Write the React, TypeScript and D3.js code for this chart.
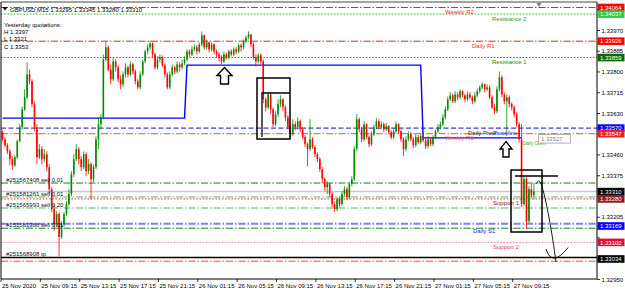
import React from 'react';
import * as d3 from 'd3';

const W = 625;
const H = 293;
const plot = { left: 1, right: 597, top: 2, bottom: 279 };

const titleText = 'GBPUSD,M15  1.33295 1.33345 1.33280 1.33310';
const yesterdayLines = ['Yesterday quotations:', 'H 1.3397', 'L 1.3321', 'C 1.3353'];

const firstOpen = 1.33553;
const closes = [
  1.33524, 1.33500, 1.33475, 1.33443, 1.33418, 1.33451, 1.33516, 1.33574, 1.33647, 1.33696,
  1.33790, 1.33762, 1.33668, 1.33574, 1.33451, 1.33484, 1.33443, 1.33463, 1.33410, 1.33320,
  1.33238, 1.33177, 1.33218, 1.33124, 1.33177, 1.33218, 1.33259, 1.33300, 1.33381, 1.33443,
  1.33484, 1.33443, 1.33410, 1.33463, 1.33394, 1.33422, 1.33361, 1.33410, 1.33524, 1.33586,
  1.33614, 1.33851, 1.33901, 1.33810, 1.33770, 1.33843, 1.33819, 1.33770, 1.33749, 1.33790,
  1.33819, 1.33790, 1.33831, 1.33802, 1.33762, 1.33737, 1.33790, 1.33843, 1.33884, 1.33901,
  1.33917, 1.33872, 1.33819, 1.33851, 1.33860, 1.33827, 1.33790, 1.33737, 1.33790, 1.33819,
  1.33802, 1.33831, 1.33819, 1.33835, 1.33851, 1.33884, 1.33872, 1.33892, 1.33901, 1.33884,
  1.33913, 1.33950, 1.33901, 1.33921, 1.33892, 1.33913, 1.33884, 1.33872, 1.33860, 1.33843,
  1.33872, 1.33860, 1.33884, 1.33872, 1.33892, 1.33884, 1.33909, 1.33901, 1.33925, 1.33941,
  1.33954, 1.33913, 1.33860, 1.33843, 1.33868, 1.33843, 1.33688, 1.33655, 1.33708, 1.33647,
  1.33586, 1.33627, 1.33668, 1.33688, 1.33655, 1.33614, 1.33574, 1.33545, 1.33586, 1.33574,
  1.33598, 1.33565, 1.33533, 1.33504, 1.33484, 1.33524, 1.33492, 1.33463, 1.33443, 1.33402,
  1.33361, 1.33328, 1.33341, 1.33300, 1.33259, 1.33238, 1.33279, 1.33259, 1.33300, 1.33320,
  1.33287, 1.33341, 1.33361, 1.33484, 1.33606, 1.33565, 1.33524, 1.33586, 1.33533, 1.33504,
  1.33545, 1.33574, 1.33598, 1.33574, 1.33586, 1.33565, 1.33578, 1.33553, 1.33533, 1.33557,
  1.33586, 1.33557, 1.33524, 1.33484, 1.33524, 1.33545, 1.33524, 1.33500, 1.33533, 1.33512,
  1.33537, 1.33520, 1.33496, 1.33524, 1.33504, 1.33533, 1.33557, 1.33574, 1.33586, 1.33614,
  1.33647, 1.33688, 1.33704, 1.33680, 1.33708, 1.33696, 1.33721, 1.33704, 1.33688, 1.33708,
  1.33696, 1.33680, 1.33704, 1.33721, 1.33737, 1.33749, 1.33729, 1.33737, 1.33696, 1.33655,
  1.33639, 1.33729, 1.33778, 1.33708, 1.33680, 1.33696, 1.33668, 1.33655, 1.33627, 1.33586,
  1.33524, 1.33259, 1.33361, 1.33189, 1.33320, 1.33295, 1.33310,
];
const highs = [
  1.33561, 1.33533, 1.33508, 1.33484, 1.33455, 1.33459, 1.33524, 1.33586, 1.33659, 1.33729,
  1.33839, 1.33810, 1.33770, 1.33680, 1.33586, 1.33504, 1.33496, 1.33484, 1.33475, 1.33422,
  1.33328, 1.33259, 1.33230, 1.33226, 1.33189, 1.33226, 1.33271, 1.33320, 1.33394, 1.33463,
  1.33504, 1.33492, 1.33455, 1.33475, 1.33471, 1.33443, 1.33430, 1.33422, 1.33537, 1.33614,
  1.33627, 1.33872, 1.33925, 1.33909, 1.33831, 1.33860, 1.33851, 1.33827, 1.33786, 1.33802,
  1.33835, 1.33827, 1.33843, 1.33839, 1.33810, 1.33770, 1.33802, 1.33851, 1.33892, 1.33913,
  1.33929, 1.33921, 1.33880, 1.33864, 1.33872, 1.33868, 1.33835, 1.33798, 1.33802, 1.33831,
  1.33827, 1.33843, 1.33839, 1.33851, 1.33864, 1.33892, 1.33892, 1.33905, 1.33913, 1.33909,
  1.33921, 1.33966, 1.33954, 1.33933, 1.33925, 1.33921, 1.33917, 1.33892, 1.33880, 1.33868,
  1.33884, 1.33880, 1.33892, 1.33892, 1.33901, 1.33901, 1.33917, 1.33917, 1.33933, 1.33950,
  1.33966, 1.33950, 1.33921, 1.33872, 1.33876, 1.33876, 1.33851, 1.33696, 1.33717, 1.33712,
  1.33655, 1.33639, 1.33688, 1.33704, 1.33692, 1.33663, 1.33623, 1.33582, 1.33606, 1.33598,
  1.33614, 1.33606, 1.33574, 1.33541, 1.33512, 1.33606, 1.33533, 1.33500, 1.33471, 1.33451,
  1.33410, 1.33369, 1.33353, 1.33345, 1.33308, 1.33271, 1.33287, 1.33287, 1.33312, 1.33332,
  1.33328, 1.33349, 1.33373, 1.33496, 1.33627, 1.33614, 1.33574, 1.33598, 1.33590, 1.33541,
  1.33557, 1.33586, 1.33610, 1.33606, 1.33598, 1.33594, 1.33590, 1.33582, 1.33561, 1.33570,
  1.33598, 1.33590, 1.33565, 1.33533, 1.33537, 1.33557, 1.33553, 1.33533, 1.33545, 1.33541,
  1.33549, 1.33545, 1.33529, 1.33537, 1.33533, 1.33541, 1.33565, 1.33586, 1.33598, 1.33627,
  1.33659, 1.33700, 1.33717, 1.33712, 1.33721, 1.33717, 1.33729, 1.33725, 1.33712, 1.33721,
  1.33717, 1.33704, 1.33717, 1.33733, 1.33745, 1.33757, 1.33753, 1.33749, 1.33745, 1.33704,
  1.33668, 1.33741, 1.33802, 1.33786, 1.33717, 1.33708, 1.33704, 1.33676, 1.33663, 1.33635,
  1.33594, 1.33586, 1.33373, 1.33369, 1.33332, 1.33341, 1.33345,
];
const lows = [
  1.33516, 1.33492, 1.33463, 1.33418, 1.33398, 1.33410, 1.33443, 1.33512, 1.33565, 1.33639,
  1.33688, 1.33749, 1.33655, 1.33557, 1.33422, 1.33443, 1.33422, 1.33430, 1.33394, 1.33300,
  1.33226, 1.33149, 1.33165, 1.33046, 1.33116, 1.33165, 1.33210, 1.33251, 1.33291, 1.33369,
  1.33434, 1.33422, 1.33394, 1.33402, 1.33373, 1.33381, 1.33279, 1.33349, 1.33402, 1.33484,
  1.33565, 1.33606, 1.33843, 1.33802, 1.33749, 1.33762, 1.33802, 1.33757, 1.33729, 1.33737,
  1.33778, 1.33778, 1.33782, 1.33790, 1.33749, 1.33729, 1.33729, 1.33782, 1.33835, 1.33872,
  1.33892, 1.33860, 1.33810, 1.33810, 1.33839, 1.33819, 1.33778, 1.33729, 1.33729, 1.33782,
  1.33790, 1.33794, 1.33802, 1.33810, 1.33827, 1.33843, 1.33860, 1.33864, 1.33884, 1.33872,
  1.33876, 1.33905, 1.33892, 1.33892, 1.33880, 1.33884, 1.33872, 1.33860, 1.33843, 1.33831,
  1.33835, 1.33851, 1.33851, 1.33864, 1.33864, 1.33872, 1.33876, 1.33884, 1.33892, 1.33917,
  1.33933, 1.33901, 1.33851, 1.33823, 1.33835, 1.33831, 1.33672, 1.33639, 1.33647, 1.33627,
  1.33574, 1.33578, 1.33614, 1.33655, 1.33639, 1.33598, 1.33565, 1.33533, 1.33537, 1.33561,
  1.33565, 1.33553, 1.33524, 1.33492, 1.33414, 1.33475, 1.33484, 1.33451, 1.33430, 1.33390,
  1.33345, 1.33312, 1.33300, 1.33287, 1.33246, 1.33226, 1.33230, 1.33246, 1.33251, 1.33291,
  1.33275, 1.33279, 1.33332, 1.33353, 1.33475, 1.33553, 1.33512, 1.33516, 1.33524, 1.33492,
  1.33496, 1.33537, 1.33565, 1.33565, 1.33565, 1.33553, 1.33557, 1.33545, 1.33524, 1.33524,
  1.33549, 1.33549, 1.33512, 1.33455, 1.33475, 1.33516, 1.33516, 1.33488, 1.33492, 1.33504,
  1.33504, 1.33512, 1.33484, 1.33488, 1.33496, 1.33496, 1.33524, 1.33549, 1.33565, 1.33578,
  1.33606, 1.33639, 1.33680, 1.33672, 1.33672, 1.33684, 1.33688, 1.33696, 1.33676, 1.33680,
  1.33688, 1.33668, 1.33672, 1.33696, 1.33712, 1.33729, 1.33717, 1.33721, 1.33688, 1.33647,
  1.33627, 1.33631, 1.33721, 1.33696, 1.33668, 1.33537, 1.33655, 1.33643, 1.33614, 1.33574,
  1.33512, 1.33246, 1.33251, 1.33157, 1.33181, 1.33287, 1.33280,
];

const timeLabels = [
  '25 Nov 2020', '25 Nov 09:15', '25 Nov 13:15', '25 Nov 17:15', '25 Nov 21:15',
  '26 Nov 01:15', '26 Nov 05:15', '26 Nov 09:15', '26 Nov 13:15', '26 Nov 17:15',
  '26 Nov 21:15', '27 Nov 01:15', '27 Nov 05:15', '27 Nov 09:15',
];
const timeLabelBars = [0, 16, 32, 48, 64, 80, 96, 112, 128, 144, 160, 176, 192, 208];

const priceTicks = [
  1.3295, 1.33035, 1.3312, 1.33205, 1.3329, 1.33375, 1.3346, 1.33545, 1.3363, 1.33715,
  1.338, 1.33885, 1.3397, 1.34055,
];

const pivotLevels = [1.33611, 1.33828, 1.3353];
const pivotStartBars = [0, 75, 171];
const pivotEndBar = 211;

const levelPrices = [
  1.34064, 1.34037, 1.33926, 1.33859, 1.3357, 1.33547, 1.33345, 1.3331,
  1.3328, 1.33288, 1.33243, 1.33178, 1.3316, 1.33102, 1.3304, 1.33025,
];
const levelStyles = [
  { c: '#ff1a1a', d: '7,2,1.5,2', w: 1 },
  { c: '#33b033', d: '1.6,1.6', w: 1 },
  { c: '#ff1a1a', d: '7,2,1.5,2', w: 1 },
  { c: '#1f9a1f', d: '1.6,1.6', w: 1 },
  { c: '#1010d0', d: '5,2.5', w: 1 },
  { c: '#ff6a6a', d: '7,2,1.5,2', w: 1.2 },
  { c: '#0a8a0a', d: '7,2,1.5,2', w: 1 },
  { c: '#c8c8c8', d: '', w: 1.5 },
  { c: '#b04040', d: '1.6,1.6', w: 1 },
  { c: '#3aa03a', d: '7,2,1.5,2', w: 0.8 },
  { c: '#8fd08f', d: '7,2,1.5,2', w: 1.5 },
  { c: '#8080ff', d: '7,2,1.5,2', w: 2 },
  { c: '#0a8a0a', d: '7,2,1.5,2', w: 1 },
  { c: '#ff8fa3', d: '1.6,1.6', w: 1.4 },
  { c: '#000000', d: '', w: 1.3 },
  { c: '#ff4a1a', d: '7,2,1.5,2', w: 1 },
];

const levelTexts = ['Weekly R2', 'Resistance 2', 'Daily R1', 'Resistance 1', 'Daily Pivot', 'Pivot line', 'Weekly R1', 'Daily Open', 'Support 1', 'Daily S1', 'Support 2'];
const levelTextPrices = [1.34064, 1.34037, 1.33926, 1.33859, 1.3357, 1.3357, 1.33547, 1.33527, 1.3328, 1.33169, 1.33102];
const levelTextStyles = [
  { x: 445, c: '#ff2a2a', s: 6 },
  { x: 492, c: '#2aa02a', s: 6 },
  { x: 472, c: '#ff2a2a', s: 6 },
  { x: 492, c: '#1a8a1a', s: 6 },
  { x: 468, c: '#202020', s: 6 },
  { x: 493, c: '#2020ff', s: 6 },
  { x: 445, c: '#ff5a5a', s: 6 },
  { x: 523, c: '#33b033', s: 4.6 },
  { x: 493, c: '#8b1a1a', s: 6 },
  { x: 473, c: '#2020ff', s: 6 },
  { x: 493, c: '#e0405a', s: 6 },
];

const orderTexts = ['#251567408 sell 0.01', '#251581261 sell 0.01', '#251565993 sell 0.20', '#251581388 sell 0.01', '#251568908 tp'];
const orderPrices = [1.33345, 1.33288, 1.33243, 1.3316, 1.3304];

const boxPrices = [1.34064, 1.34037, 1.33926, 1.33859, 1.3357, 1.33547, 1.3331, 1.3328, 1.33169, 1.33102, 1.33034];
const boxColors = ['#ff0000', '#2ecc40', '#ff0000', '#0a6a0a', '#0000ff', '#f02020', '#000000', '#8b1a1a', '#0000ff', '#e0103c', '#000000'];

const dailyOpenPrice = 1.33527;

const fmt = (p: number) => p.toFixed(5);

export default function App() {
  const x = d3.scaleLinear().domain([0, 216]).range([2.5, 2.5 + 216 * 2.46]);
  const y = d3.scaleLinear().domain([1.32952, 1.340865]).range([plot.bottom, plot.top]);
  const font = "'Liberation Sans', Arial, sans-serif";

  const candles = closes.map((c, i) => {
    const o = i === 0 ? firstOpen : closes[i - 1];
    const h = Math.max(highs[i], o, c);
    const l = Math.min(lows[i], o, c);
    return { i, o, h, l, c };
  });

  const pivotPts: [number, number][] = [];
  for (let i = 0; i <= pivotEndBar; i++) {
    let k = 0;
    for (let j = 0; j < pivotStartBars.length; j++) if (i >= pivotStartBars[j]) k = j;
    pivotPts.push([x(i), y(pivotLevels[k])]);
  }
  const pivotLine = d3.line<[number, number]>().x((d) => d[0]).y((d) => d[1])(pivotPts) || '';

  const visibleTicks = priceTicks.filter((p) => boxPrices.every((b) => Math.abs(y(p) - y(b)) >= 5));

  return (
    <svg width={W} height={H} style={{ position: 'absolute', left: 0, top: 0, background: '#fff' }} fontFamily={font}>
      <rect x={0} y={0} width={W} height={H} fill="#fff" />
      <defs>
        <clipPath id="plotClip">
          <rect x={plot.left} y={plot.top} width={plot.right - plot.left} height={plot.bottom - plot.top} />
        </clipPath>
      </defs>
      <g clipPath="url(#plotClip)">
        {levelPrices.map((p, i) => (
          <line key={'lv' + i} x1={plot.left} x2={plot.right} y1={y(p)} y2={y(p)}
            stroke={levelStyles[i].c} strokeWidth={levelStyles[i].w} strokeDasharray={levelStyles[i].d || undefined} />
        ))}
        <path d={pivotLine} fill="none" stroke="#0000ff" strokeWidth={1.4} />
        {candles.map((d) => {
          const cx = x(d.i);
          const col = d.c >= d.o ? '#008c00' : '#ff0000';
          const top = y(Math.max(d.o, d.c));
          const bh = Math.max(0.7, Math.abs(y(d.o) - y(d.c)));
          return (
            <g key={'c' + d.i}>
              <line x1={cx} x2={cx} y1={y(d.h)} y2={y(d.l)} stroke={col} strokeWidth={0.8} />
              <rect x={cx - 0.8} width={1.6} y={top} height={bh} fill={col} />
            </g>
          );
        })}
      </g>

      {/* title & info */}
      <path d="M2.5,7 L7.5,7 L5,10.5 Z" fill="#000" />
      <text x={10} y={11.5} fontSize={6} fill="#000">{titleText}</text>
      {yesterdayLines.map((t, i) => (
        <text key={'yq' + i} x={4} y={27 + i * 7.2} fontSize={6} fill="#000">{t}</text>
      ))}

      {/* level labels */}
      {levelTexts.map((t, i) => (
        <text key={'lt' + i} x={levelTextStyles[i].x} y={y(levelTextPrices[i]) + 6.5} fontSize={levelTextStyles[i].s} fill={levelTextStyles[i].c}>{t}</text>
      ))}
      {orderTexts.map((t, i) => (
        <text key={'ot' + i} x={6} y={y(orderPrices[i]) - 1.2} fontSize={6} fill="#111">{t}</text>
      ))}

      {/* daily open price label */}
      <rect x={538.5} y={y(dailyOpenPrice) - 4} width={32} height={8.5} fill="#fff" stroke="#a0a0a0" strokeWidth={0.8} />
      <text x={541} y={y(dailyOpenPrice) + 2.3} fontSize={6} fill="#8a8a8a">{fmt(dailyOpenPrice)}</text>

      {/* annotations */}
      <path d="M224.5,67.5 L232,75.5 L228.5,75.5 L228.5,84 L220.5,84 L220.5,75.5 L217,75.5 Z" fill="#fff" stroke="#000" strokeWidth={1.4} strokeLinejoin="miter" />
      <path d="M506,141.5 L512,149 L509,149 L509,157 L503,157 L503,149 L500,149 Z" fill="#fff" stroke="#000" strokeWidth={1.4} />
      <rect x={257} y={78} width={33} height={61} fill="none" stroke="#000" strokeWidth={1.5} />
      <path d="M290,93 L262,93 L262,137" fill="none" stroke="#000" strokeWidth={1.3} />
      <rect x={511} y={170} width={31} height={62} fill="none" stroke="#000" strokeWidth={1.5} />
      <line x1={515} x2={558} y1={176} y2={176} stroke="#000" strokeWidth={1.5} />
      <path d="M536.5,184 Q538.5,178 541,183.5 C546,198 552,232 556,262" fill="none" stroke="#000" strokeWidth={0.9} />
      <path d="M546,249 Q552,268 568,247.5" fill="none" stroke="#000" strokeWidth={0.9} />
      <path d="M536.5,3 L541.5,3 L539,7 Z" fill="#808080" />

      {/* frame */}
      <line x1={plot.left} x2={plot.right} y1={plot.top} y2={plot.top} stroke="#444" strokeWidth={1} />
      <line x1={plot.left} x2={plot.left} y1={plot.top} y2={plot.bottom} stroke="#000" strokeWidth={1} />
      <line x1={plot.right} x2={plot.right} y1={plot.top} y2={plot.bottom} stroke="#000" strokeWidth={1} />
      <line x1={plot.left} x2={plot.right} y1={plot.bottom} y2={plot.bottom} stroke="#000" strokeWidth={1} />

      {/* time axis */}
      {timeLabelBars.map((b, i) => (
        <g key={'tx' + i}>
          <line x1={x(b) - 1.5} x2={x(b) - 1.5} y1={plot.bottom} y2={plot.bottom + 3} stroke="#000" strokeWidth={0.8} />
          <text x={x(b) - 0.5} y={288} fontSize={6} fill="#000">{timeLabels[i]}</text>
        </g>
      ))}

      {/* price axis */}
      {priceTicks.map((p, i) => (
        <line key={'pt' + i} x1={plot.right} x2={plot.right + 3} y1={y(p)} y2={y(p)} stroke="#000" strokeWidth={0.8} />
      ))}
      {visibleTicks.map((p, i) => (
        <text key={'py' + i} x={601.5} y={y(p) + 2.2} fontSize={6} fill="#000">{fmt(p)}</text>
      ))}
      {boxPrices.map((p, i) => (
        <g key={'bx' + i}>
          <rect x={597.5} y={y(p) - 3.8} width={27} height={7.6} fill={boxColors[i]} />
          <text x={600} y={y(p) + 2.2} fontSize={6} fill="#fff">{fmt(p)}</text>
        </g>
      ))}
    </svg>
  );
}
